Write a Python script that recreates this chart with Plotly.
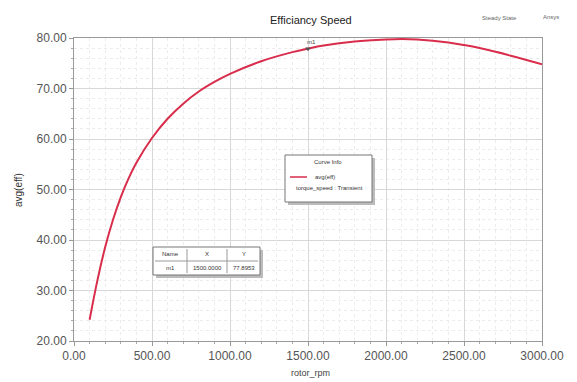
import plotly.graph_objects as go

rpm = [100, 150, 200, 250, 300, 350, 400, 500, 600, 700, 800, 900, 1000, 1200, 1400,
       1500, 1600, 1800, 2000, 2100, 2200, 2400, 2500, 2600, 2800, 3000]
eff = [24.2, 32.0, 38.6, 44.0, 48.5, 52.2, 55.3, 60.2, 64.0, 67.0, 69.4, 71.3, 72.9, 75.4, 77.2,
       77.9, 78.5, 79.3, 79.7, 79.8, 79.7, 79.1, 78.6, 78.0, 76.5, 74.8]
x_ticks = [0, 500, 1000, 1500, 2000, 2500, 3000]
y_ticks = [20, 30, 40, 50, 60, 70, 80]
marker_x = 1500
marker_y = 77.8953

W, H = 577, 382
L, R, T, B = 74, 35, 38, 41
PW, PH = W - L - R, H - T - B

def px(x):
    return (x - L) / PW

def py(y):
    return (H - B - y) / PH

fig = go.Figure()
fig.add_trace(go.Scatter(x=rpm, y=eff, mode="lines", line=dict(color="#d92d4c", width=2),
                         line_shape="spline", showlegend=False))
fig.add_trace(go.Scatter(x=[marker_x], y=[marker_y], mode="markers",
                         marker=dict(symbol="triangle-down", size=5, color="#555"),
                         showlegend=False))

font = "Liberation Sans, Arial, sans-serif"
axis_common = dict(showline=True, linecolor="#999", linewidth=1, mirror=True,
                   ticks="outside", ticklen=4, tickcolor="#999",
                   showgrid=True, gridcolor="#d8d8d8", gridwidth=1, zeroline=False,
                   tickfont=dict(family=font, size=12, color="#555"))
fig.update_xaxes(range=[0, 3000], tickvals=x_ticks, tickformat=".2f",
                 minor=dict(dtick=100, showgrid=True, gridcolor="#ececec", griddash="dot",
                            ticks="outside", ticklen=2, tickcolor="#aaa"),
                 **axis_common)
fig.update_yaxes(range=[20, 80], tickvals=y_ticks, tickformat=".2f",
                 minor=dict(dtick=2, showgrid=True, gridcolor="#ececec", griddash="dot",
                            ticks="outside", ticklen=2, tickcolor="#aaa"),
                 **axis_common)

ann = []
shapes = []

def text(t, x, y, size, color="#333", angle=0):
    ann.append(dict(text=t, x=px(x), y=py(y), xref="paper", yref="paper",
                    xanchor="center", yanchor="middle", textangle=angle,
                    showarrow=False, font=dict(family=font, size=size, color=color)))

text("Efficiancy Speed", 311, 20, 11, "#222")
text("Steady State", 499, 18, 6, "#666")
text("Ansys", 551, 17, 6, "#666")
text("rotor_rpm", 310, 373, 9, "#444")
text("avg(eff)", 18, 190, 10, "#333", -90)
ann.append(dict(text="m1", x=marker_x, y=80, xref="x", yref="y", yshift=-4, xshift=3,
                xanchor="center", yanchor="middle",
                showarrow=False, font=dict(family=font, size=6, color="#444")))

# Curve info box
bx0, by0, bx1, by1 = 285, 155, 372, 202
shapes.append(dict(type="rect", xref="paper", yref="paper", x0=px(bx0 + 3), x1=px(bx1 + 3),
                   y0=py(by1 + 3), y1=py(by0 + 3), fillcolor="#bbb", line=dict(width=0)))
shapes.append(dict(type="rect", xref="paper", yref="paper", x0=px(bx0), x1=px(bx1),
                   y0=py(by1), y1=py(by0), fillcolor="white", line=dict(color="#777", width=1)))
shapes.append(dict(type="line", xref="paper", yref="paper", x0=px(290), x1=px(307),
                   y0=py(177), y1=py(177), line=dict(color="#d92d4c", width=1.5)))
text("Curve Info", 328, 162, 6)
text("avg(eff)", 325, 177, 6)
text("torque_speed : Transient", 329, 188, 6)

# Marker table
tx0, ty0, tx1, ty1 = 153, 247, 260, 275
shapes.append(dict(type="rect", xref="paper", yref="paper", x0=px(tx0 + 3), x1=px(tx1 + 3),
                   y0=py(ty1 + 3), y1=py(ty0 + 3), fillcolor="#bbb", line=dict(width=0)))
shapes.append(dict(type="rect", xref="paper", yref="paper", x0=px(tx0), x1=px(tx1),
                   y0=py(ty1), y1=py(ty0), fillcolor="white", line=dict(color="#777", width=1)))
for cx in (187, 227):
    shapes.append(dict(type="line", xref="paper", yref="paper", x0=px(cx), x1=px(cx),
                       y0=py(ty1 - 2), y1=py(ty0 + 2), line=dict(color="#999", width=1)))
shapes.append(dict(type="line", xref="paper", yref="paper", x0=px(tx0 + 2), x1=px(tx1 - 2),
                   y0=py(261), y1=py(261), line=dict(color="#999", width=1)))
header = ["Name", "X", "Y"]
row = ["m1", f"{marker_x:.4f}", f"{marker_y:.4f}"]
cols = [170, 207, 243.5]
for cx, h, r in zip(cols, header, row):
    text(h, cx, 254, 6)
    text(r, cx, 268, 6)

fig.update_layout(width=W, height=H, margin=dict(l=L, r=R, t=T, b=B),
                  plot_bgcolor="white", paper_bgcolor="white",
                  annotations=ann, shapes=shapes, showlegend=False,
                  font=dict(family=font))
fig.write_html("out.html")
